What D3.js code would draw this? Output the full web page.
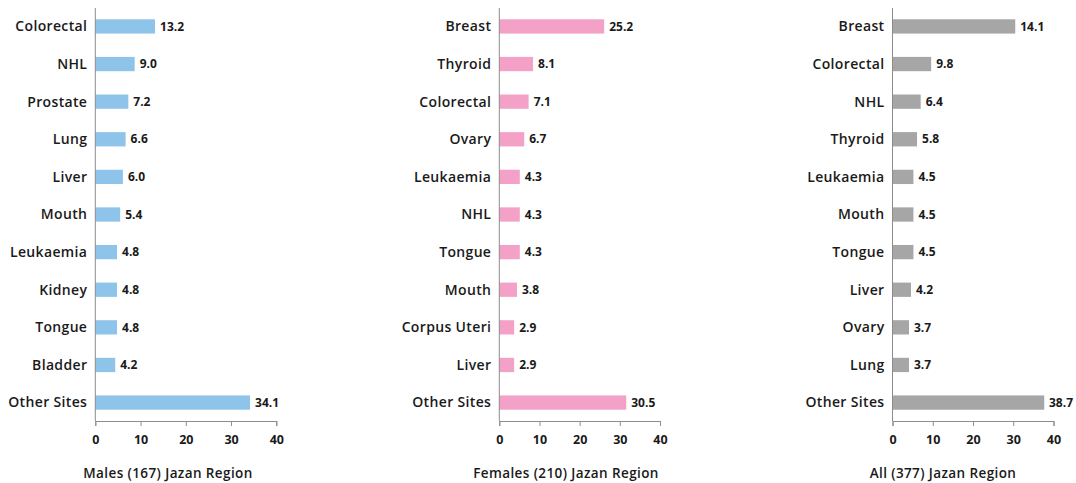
<!DOCTYPE html>
<html><head><meta charset="utf-8">
<script src="https://cdn.jsdelivr.net/npm/d3@7"></script>
<style>
body{margin:0;background:#fff;}
svg{display:block;}
.cat{font-family:"Open Sans",sans-serif;font-weight:600;font-size:14px;letter-spacing:0.35px;fill:#1a1a1a;}
.val{font-family:"Open Sans",sans-serif;font-weight:700;font-size:12px;fill:#1a1a1a;}
.tick text{font-family:"Open Sans",sans-serif;font-weight:700;font-size:12.5px;fill:#1a1a1a;}
.ttl{font-family:"Open Sans",sans-serif;font-weight:600;font-size:13.5px;letter-spacing:0.4px;fill:#1a1a1a;}
</style></head>
<body>
<svg id="c" width="1076" height="483"></svg>
<script>
// Males
const maleSites = ["Colorectal","NHL","Prostate","Lung","Liver","Mouth","Leukaemia","Kidney","Tongue","Bladder","Other Sites"];
const maleLabels = [13.2,9.0,7.2,6.6,6.0,5.4,4.8,4.8,4.8,4.2,34.1];
const maleBars   = [13.2,8.7,7.3,6.7,6.1,5.5,4.8,4.8,4.8,4.4,34.2];
// Females
const femaleSites = ["Breast","Thyroid","Colorectal","Ovary","Leukaemia","NHL","Tongue","Mouth","Corpus Uteri","Liver","Other Sites"];
const femaleLabels = [25.2,8.1,7.1,6.7,4.3,4.3,4.3,3.8,2.9,2.9,30.5];
const femaleBars   = [26.1,8.4,7.3,6.2,5.1,5.1,5.1,4.4,3.7,3.7,31.6];
// All
const allSites = ["Breast","Colorectal","NHL","Thyroid","Leukaemia","Mouth","Tongue","Liver","Ovary","Lung","Other Sites"];
const allLabels = [14.1,9.8,6.4,5.8,4.5,4.5,4.5,4.2,3.7,3.7,38.7];
const allBars   = [30.5,9.6,7.0,6.1,5.2,5.2,5.2,4.6,4.1,4.1,37.7];

const xTicks = [0,10,20,30,40];
const titles = ["Males  (167) Jazan Region","Females  (210) Jazan Region","All (377) Jazan Region"];

const panels = [
  {sites:maleSites, labels:maleLabels, bars:maleBars, color:"#8fc4ea", x0:95.3, x1:276.3, title:titles[0], tx:168},
  {sites:femaleSites, labels:femaleLabels, bars:femaleBars, color:"#f4a1c8", x0:499.3, x1:660, title:titles[1], tx:566},
  {sites:allSites, labels:allLabels, bars:allBars, color:"#a6a6a6", x0:892.5, x1:1053.5, title:titles[2], tx:943}
];

const svg = d3.select("#c");
const W = 1076, yTop = 8, yBot = 421;

panels.forEach(p=>{
  const g = svg.append("g");
  const x = d3.scaleLinear().domain([0,40]).range([p.x0,p.x1]);
  const y = d3.scaleBand().domain(p.sites).range([yTop,yBot]).paddingInner(0.62).paddingOuter(0.3);
  g.selectAll("rect.bar").data(p.bars).join("rect")
    .attr("x", x(0)).attr("y",(d,i)=>y(p.sites[i]))
    .attr("width",d=>x(d)-x(0)).attr("height",y.bandwidth())
    .attr("fill",p.color);
  g.selectAll("text.val").data(p.labels).join("text").attr("class","val")
    .attr("y",(d,i)=>y(p.sites[i])+y.bandwidth()/2)
    .attr("dy","0.35em").text(d=>d.toFixed(1))
    .attr("x",function(d,i){ const len=this.getComputedTextLength(); return Math.min(x(p.bars[i])+5, W-3-len); });
  g.selectAll("text.cat").data(p.sites).join("text").attr("class","cat")
    .attr("x",x(0)-8).attr("y",d=>y(d)+y.bandwidth()/2).attr("dy","0.35em")
    .attr("text-anchor","end").text(d=>d);
  g.append("line").attr("x1",x(0)).attr("x2",x(0)).attr("y1",yTop).attr("y2",yBot)
    .attr("stroke","#8c8c8c").attr("stroke-width",1);
  const ax = g.append("g").attr("transform",`translate(0,${yBot})`)
    .call(d3.axisBottom(x).tickValues(xTicks).tickSize(5).tickPadding(9).tickFormat(d3.format("d")));
  ax.select(".domain").attr("stroke","#8c8c8c");
  ax.selectAll(".tick line").attr("stroke","#8c8c8c");
  g.append("text").attr("class","ttl").attr("x",p.tx).attr("y",478).attr("text-anchor","middle").text(p.title);
});
</script>
</body></html>
